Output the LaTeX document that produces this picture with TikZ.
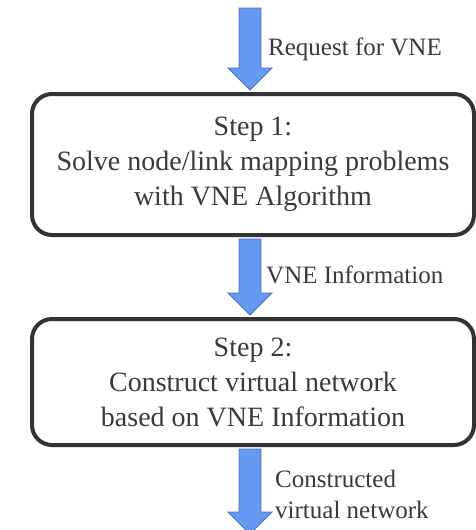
\documentclass[tikz,border=0pt]{standalone}
\usepackage{fontspec}
\setmainfont{Liberation Serif}
\usetikzlibrary{calc}
\definecolor{boxline}{HTML}{333333}
\definecolor{inktext}{HTML}{3A3A3A}
\definecolor{arrowfill}{HTML}{6699F2}
\definecolor{arrowline}{HTML}{4472C4}
\tikzset{
  stepbox/.style={draw=boxline, line width=4pt, rounded corners=20pt, fill=white,
    minimum width=442pt, inner sep=0pt, align=center, text=inktext,
    font=\fontsize{28}{35}\selectfont},
  flowlabel/.style={text=inktext, font=\fontsize{25}{31}\selectfont,
    inner sep=0pt, align=left},
  blockarrow/.style={fill=arrowfill, draw=arrowline, line width=0.8pt, line join=miter}
}
% block arrow pointing down from #1 to #2 (same x)
\newcommand\flowarrow[2]{%
  \path[blockarrow] let \p1=(#1), \p2=(#2) in
    (\x1-11pt,\y1) -- (\x1+11pt,\y1) -- (\x1+11pt,\y2+22pt) -- (\x1+22pt,\y2+22pt)
    -- (\x1,\y2) -- (\x1-22pt,\y2+22pt) -- (\x1-11pt,\y2+22pt) -- cycle;}

\begin{document}
\begin{tikzpicture}[x=1pt,y=1pt]
\useasboundingbox (0,0) rectangle (476,-530);

% process steps
\node[stepbox, minimum height=141pt] (s1) at (253,-164.5)
  {Step 1:\\Solve node/link mapping problems\\with VNE Algorithm};
\node[stepbox, minimum height=126pt] (s2) at (253,-382)
  {Step 2:\\Construct virtual network\\based on VNE Information};

% arrow ends
\coordinate (in) at (250,-8);
\coordinate (out) at (250,-534);
\coordinate (t1) at ($(s1.north -| in)+(0,2)$);
\coordinate (b1) at ($(s1.south -| in)+(0,-2)$);
\coordinate (t2) at ($(s2.north -| in)+(0,2)$);
\coordinate (b2) at ($(s2.south -| in)+(0,-2)$);

% flow arrows
\flowarrow{in}{t1}
\flowarrow{b1}{t2}
\flowarrow{b2}{out}

% arrow labels
\node[flowlabel, anchor=base west] (l1) at (268,-55) {Request for VNE};
\node[flowlabel, anchor=base west] (l2) at (266,-283) {VNE Information};
\node[flowlabel, anchor=north west] (l3) at (275,-470) {Constructed\\virtual network};
\end{tikzpicture}
\end{document}
